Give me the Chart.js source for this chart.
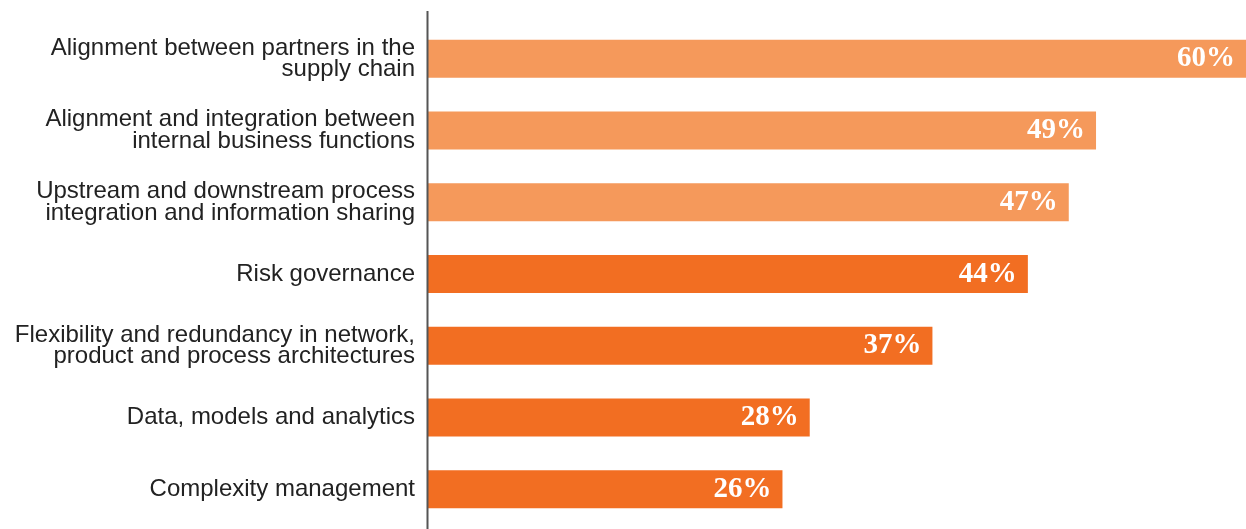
<!DOCTYPE html>
<html>
<head>
<meta charset="utf-8">
<script src="https://cdn.jsdelivr.net/npm/chart.js@4/dist/chart.umd.min.js"></script>
<style>
  html, body { margin: 0; padding: 0; background: #fff; }
  #wrap { width: 1246px; height: 529px; }
</style>
</head>
<body>
<div id="wrap"><canvas id="chart"></canvas></div>
<script>
const categories = [
  ['Alignment between partners in the', 'supply chain'],
  ['Alignment and integration between', 'internal business functions'],
  ['Upstream and downstream process', 'integration and information sharing'],
  'Risk governance',
  ['Flexibility and redundancy in network,', 'product and process architectures'],
  'Data, models and analytics',
  'Complexity management'
];
const values = [60, 49, 47, 44, 37, 28, 26];
const barColors = ['#F5995B', '#F5995B', '#F5995B', '#F26E22', '#F26E22', '#F26E22', '#F26E22'];

// white value labels inside the bar end
const valueLabels = {
  id: 'valueLabels',
  afterDatasetsDraw(chart) {
    const ctx = chart.ctx;
    const meta = chart.getDatasetMeta(0);
    ctx.save();
    ctx.fillStyle = '#fff';
    ctx.font = 'bold 29px "Liberation Serif", serif';
    ctx.textAlign = 'right';
    ctx.textBaseline = 'alphabetic';
    meta.data.forEach((bar, i) => {
      ctx.fillText(values[i] + '%', bar.x - 11, bar.y + 7.5);
    });
    ctx.restore();
  }
};

// vertical axis line running past the bars
const axisLine = {
  id: 'axisLine',
  afterDraw(chart) {
    const ctx = chart.ctx;
    const x = chart.chartArea.left - 0.5;
    ctx.save();
    ctx.strokeStyle = '#555';
    ctx.lineWidth = 2;
    ctx.beginPath();
    ctx.moveTo(x, 11);
    ctx.lineTo(x, chart.height);
    ctx.stroke();
    ctx.restore();
  }
};

new Chart(document.getElementById('chart'), {
  type: 'bar',
  data: {
    labels: categories,
    datasets: [{
      data: values,
      backgroundColor: barColors,
      barPercentage: 0.53,
      categoryPercentage: 1
    }]
  },
  options: {
    indexAxis: 'y',
    responsive: true,
    maintainAspectRatio: false,
    animation: false,
    layout: { padding: { top: 23, bottom: 4, left: 0, right: 0 } },
    plugins: { legend: { display: false }, tooltip: { enabled: false } },
    scales: {
      x: {
        min: 0,
        max: 60,
        display: false
      },
      y: {
        grid: { display: false, drawTicks: true, tickLength: 13 },
        border: { display: false },
        afterFit(axis) {
          axis.width = 428;
          axis.paddingTop = 0;
          axis.paddingBottom = 0;
        },
        ticks: {
          padding: 0,
          color: '#222',
          font: { family: '"Liberation Sans", Arial, sans-serif', size: 24, lineHeight: 0.9 }
        }
      }
    }
  },
  plugins: [valueLabels, axisLine]
});
</script>
</body>
</html>
